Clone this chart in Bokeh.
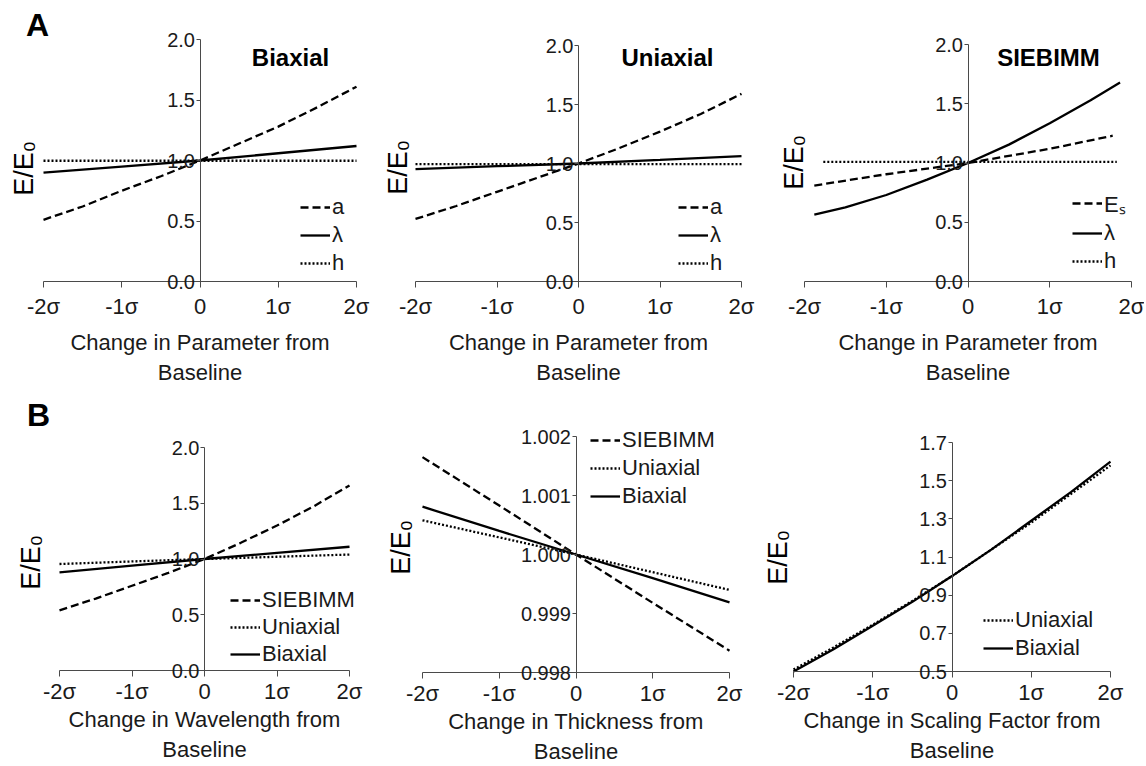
from bokeh.plotting import figure
from bokeh.models import Range1d, FixedTicker, PrintfTickFormatter, Label, Legend, LegendItem
from bokeh.layouts import column, row
from bokeh.embed import file_html
from bokeh.resources import INLINE

FONT = "Liberation Sans"

# ---------------- data ----------------
sigma_ticks = [-2, -1, 0, 1, 2]
sigma_labels = ["-2σ", "-1σ", "0", "1σ", "2σ"]

x9 = [-2, -1.5, -1, -0.5, 0, 0.5, 1, 1.5, 2]
x5 = [-2, -1, 0, 1, 2]

# Panel A - Biaxial
biax_a = [0.51, 0.62, 0.75, 0.87, 1.0, 1.14, 1.28, 1.44, 1.61]
biax_lam = [0.90, 0.95, 1.0, 1.06, 1.12]
biax_h = [0.998, 0.998, 0.998, 0.998, 0.998]

# Panel A - Uniaxial
uni_a = [0.53, 0.64, 0.76, 0.88, 1.0, 1.13, 1.27, 1.42, 1.59]
uni_lam = [0.953, 0.977, 1.0, 1.03, 1.062]
uni_h = [0.995, 0.995, 0.995, 0.995, 0.995]

# Panel A - SIEBIMM
sieb_lam_x = [-1.88, -1.5, -1.0, -0.5, 0, 0.5, 1.0, 1.5, 1.86]
sieb_lam = [0.565, 0.625, 0.73, 0.86, 1.0, 1.155, 1.335, 1.53, 1.68]
sieb_es_x = [-1.88, -1, 0, 1, 1.77]
sieb_es = [0.81, 0.905, 1.0, 1.12, 1.23]
sieb_h_x = [-1.77, 1.82]
sieb_h = [1.01, 1.01]

# Panel B - Wavelength
wl_sieb = [0.54, 0.645, 0.76, 0.875, 1.0, 1.145, 1.30, 1.47, 1.66]
wl_uni = [0.955, 0.978, 1.0, 1.02, 1.04]
wl_biax = [0.88, 0.94, 1.0, 1.055, 1.11]

# Panel B - Thickness
th_sieb = [1.00165, 1.00083, 1.0, 0.99918, 0.99837]
th_uni = [1.00058, 1.00029, 1.0, 0.99970, 0.99940]
th_biax = [1.00081, 1.00040, 1.0, 0.99960, 0.99919]

# Panel B - Scaling factor
sf_uni = [0.51, 0.625, 0.745, 0.87, 1.0, 1.14, 1.28, 1.43, 1.58]
sf_biax = [0.50, 0.615, 0.74, 0.865, 1.0, 1.14, 1.29, 1.44, 1.60]

yticks_A = [0.0, 0.5, 1.0, 1.5, 2.0]
yticks_th = [0.998, 0.999, 1.000, 1.001, 1.002]
yticks_sf = [0.5, 0.7, 0.9, 1.1, 1.3, 1.5, 1.7]

DASH = "8 4"
DOT = "2 2"
LW = 2.3
AXC = "#4a4a4a"
TXC = "#1a1a1a"


def make_panel(W, H, L, R, T, B, ylo, yhi, yticks, yfmt, xlabel,
               tick_standoff, label_standoff):
    # the whole figure is the frame; the data box (L..R, T..B in pixels)
    # is mapped onto x = -2..2 and y = ylo..yhi
    kx = (R - L) / 4.0
    ky = (B - T) / float(yhi - ylo)
    xr = Range1d(-2 - L / kx, 2 + (W - R) / kx)
    yr = Range1d(ylo - (H - B) / ky, yhi + T / ky)
    p = figure(width=W, height=H, min_border=0, x_range=xr, y_range=yr,
               output_backend="svg", toolbar_location=None)
    p.title.visible = False
    p.outline_line_color = None
    p.grid.visible = False
    p.background_fill_color = "white"
    p.border_fill_color = "white"

    xa = p.xaxis[0]
    xa.fixed_location = ylo
    xa.bounds = (-2, 2)
    xa.ticker = FixedTicker(ticks=sigma_ticks, minor_ticks=[])
    xa.major_label_overrides = dict(zip(sigma_ticks, sigma_labels))
    xa.major_tick_in = 0
    xa.major_tick_out = 6
    xa.minor_tick_line_color = None
    xa.axis_line_color = AXC
    xa.major_tick_line_color = AXC
    xa.major_label_text_font = FONT
    xa.major_label_text_font_size = "22px"
    xa.major_label_text_color = TXC
    xa.major_label_standoff = tick_standoff
    xa.axis_label = xlabel
    xa.axis_label_text_font = FONT
    xa.axis_label_text_font_size = "22px"
    xa.axis_label_text_font_style = "normal"
    xa.axis_label_text_color = TXC
    xa.axis_label_standoff = label_standoff

    ya = p.yaxis[0]
    ya.fixed_location = 0
    ya.bounds = (ylo, yhi)
    ya.ticker = FixedTicker(ticks=yticks, minor_ticks=[])
    ya.formatter = PrintfTickFormatter(format=yfmt)
    ya.major_tick_in = 0
    ya.major_tick_out = 4
    ya.minor_tick_line_color = None
    ya.axis_line_color = AXC
    ya.major_tick_line_color = AXC
    ya.major_label_text_font = FONT
    ya.major_label_text_font_size = "20px"
    ya.major_label_text_color = TXC
    ya.major_label_standoff = 1
    return p


def add_text(p, x, y, text, size, bold=False, angle=0):
    p.add_layout(Label(x=x, y=y, x_units="screen", y_units="screen", text=text,
                       angle=angle, angle_units="deg",
                       text_font=FONT, text_font_size=size,
                       text_font_style="bold" if bold else "normal",
                       text_color="black", text_align="center",
                       text_baseline="middle"))


def add_legend(p, items, loc, spacing):
    leg = Legend(items=[LegendItem(label=l, renderers=[r]) for l, r in items],
                 location=loc, border_line_color=None, background_fill_alpha=0,
                 padding=0, margin=0, spacing=spacing, glyph_width=30,
                 glyph_height=18, label_height=18, label_standoff=2,
                 label_text_font=FONT, label_text_font_size="22px",
                 label_text_color=TXC)
    p.add_layout(leg)


XL_A = "Change in Parameter from\nBaseline"

# ---- A1 Biaxial ----
a1 = make_panel(380, 383, 43, 356, 39, 281, 0, 2, yticks_A, "%.1f", XL_A, 6, 8)
r1 = a1.line(x9, biax_a, line_color="black", line_width=LW, line_dash=DASH)
r2 = a1.line(x5, biax_lam, line_color="black", line_width=LW)
r3 = a1.line(x5, biax_h, line_color="black", line_width=LW, line_dash=DOT)
add_legend(a1, [("a", r1), ("λ", r2), ("h", r3)], (300, 107), 2)
add_text(a1, 290, 326, "Biaxial", "24px", bold=True)
add_text(a1, 37, 359, "A", "32px", bold=True)
add_text(a1, 23, 215, "E/E₀", "27px", angle=90)

# ---- A2 Uniaxial ----
a2 = make_panel(380, 383, 35, 361, 45, 281, 0, 2, yticks_A, "%.1f", XL_A, 6, 8)
r1 = a2.line(x9, uni_a, line_color="black", line_width=LW, line_dash=DASH)
r2 = a2.line(x5, uni_lam, line_color="black", line_width=LW)
r3 = a2.line(x5, uni_h, line_color="black", line_width=LW, line_dash=DOT)
add_legend(a2, [("a", r1), ("λ", r2), ("h", r3)], (298, 107), 2)
add_text(a2, 287, 326, "Uniaxial", "24px", bold=True)
add_text(a2, 17, 216, "E/E₀", "27px", angle=90)

# ---- A3 SIEBIMM ----
a3 = make_panel(384, 383, 44, 371, 44, 281, 0, 2, yticks_A, "%.1f", XL_A, 6, 8)
r1 = a3.line(sieb_es_x, sieb_es, line_color="black", line_width=LW, line_dash=DASH)
r2 = a3.line(sieb_lam_x, sieb_lam, line_color="black", line_width=LW)
r3 = a3.line(sieb_h_x, sieb_h, line_color="black", line_width=LW, line_dash=DOT)
add_legend(a3, [("Eₛ", r1), ("λ", r2), ("h", r3)], (312, 109), 2)
add_text(a3, 288, 326, "SIEBIMM", "24px", bold=True)
add_text(a3, 33, 221, "E/E₀", "27px", angle=90)

# ---- B1 Wavelength ----
b1 = make_panel(380, 381, 59, 349, 64, 287, 0, 2, yticks_A, "%.1f",
                "Change in Wavelength from\nBaseline", 2, 0)
r1 = b1.line(x9, wl_sieb, line_color="black", line_width=LW, line_dash=DASH)
r2 = b1.line(x5, wl_uni, line_color="black", line_width=LW, line_dash=DOT)
r3 = b1.line(x5, wl_biax, line_color="black", line_width=LW)
add_legend(b1, [("SIEBIMM", r1), ("Uniaxial", r2), ("Biaxial", r3)], (230, 97), 1)
add_text(b1, 38, 350, "B", "32px", bold=True)
add_text(b1, 30, 202, "E/E₀", "27px", angle=90)

# ---- B2 Thickness ----
b2 = make_panel(380, 381, 42, 349, 53, 289, 0.998, 1.002, yticks_th, "%.3f",
                "Change in Thickness from\nBaseline", 2, 0)
r1 = b2.line(x5, th_sieb, line_color="black", line_width=LW, line_dash=DASH)
r2 = b2.line(x5, th_uni, line_color="black", line_width=LW, line_dash=DOT)
r3 = b2.line(x5, th_biax, line_color="black", line_width=LW)
add_legend(b2, [("SIEBIMM", r1), ("Uniaxial", r2), ("Biaxial", r3)], (210, 255), 2)
add_text(b2, 20, 217, "E/E₀", "27px", angle=90)

# ---- B3 Scaling factor ----
b3 = make_panel(384, 381, 33, 350, 59, 288, 0.5, 1.7, yticks_sf, "%.1f",
                "Change in Scaling Factor from\nBaseline", 2, 0)
r2 = b3.line(x9, sf_uni, line_color="black", line_width=LW, line_dash=DOT)
r3 = b3.line(x9, sf_biax, line_color="black", line_width=LW)
add_legend(b3, [("Uniaxial", r2), ("Biaxial", r3)], (223, 103), 2)
add_text(b3, 17, 207, "E/E₀", "27px", angle=90)

layout = column(row(a1, a2, a3), row(b1, b2, b3))
open("out.html", "w").write(file_html(layout, INLINE))
